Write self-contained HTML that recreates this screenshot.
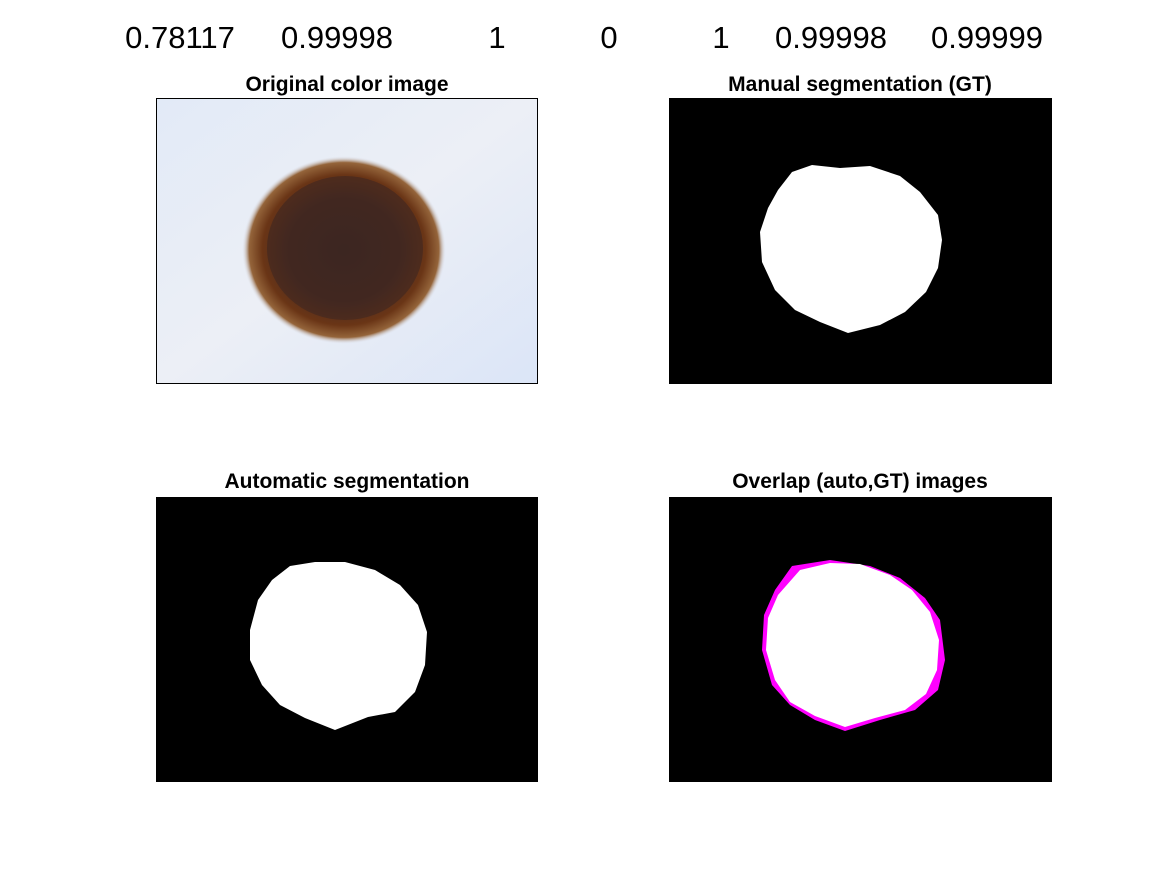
<!DOCTYPE html>
<html><head><meta charset="utf-8">
<style>
html,body{margin:0;padding:0;background:#fff;}
body{width:1167px;height:875px;position:relative;overflow:hidden;font-family:"Liberation Sans",Arial,sans-serif;}
</style></head>
<body>
<svg width="1167" height="875" viewBox="0 0 1167 875">
<defs>
<radialGradient id="lesion" cx="0.5" cy="0.5" r="0.5">
<stop offset="0" stop-color="#3a2622"/>
<stop offset="0.55" stop-color="#482a20"/>
<stop offset="0.8" stop-color="#6a3516"/>
<stop offset="0.93" stop-color="#94643a"/>
<stop offset="1" stop-color="#dfe6f2" stop-opacity="0"/>
</radialGradient>
<linearGradient id="skin" x1="0" y1="0" x2="1" y2="1">
<stop offset="0" stop-color="#e2eaf7"/>
<stop offset="0.5" stop-color="#eceff6"/>
<stop offset="1" stop-color="#dbe5f7"/>
</linearGradient>
</defs>
<g font-size="31" fill="#000" text-anchor="middle">
<text x="180" y="48">0.78117</text>
<text x="337" y="48">0.99998</text>
<text x="497" y="48">1</text>
<text x="609" y="48">0</text>
<text x="721" y="48">1</text>
<text x="831" y="48">0.99998</text>
<text x="987" y="48">0.99999</text>
</g>
<g font-size="21" font-weight="bold" text-anchor="middle">
<text x="347" y="91">Original color image</text>
<text x="860" y="91">Manual segmentation (GT)</text>
<text x="347" y="488">Automatic segmentation</text>
<text x="860" y="488">Overlap (auto,GT) images</text>
</g>
<g>
<rect x="156" y="98" width="382" height="286" fill="url(#skin)"/>
<ellipse cx="344" cy="250" rx="102" ry="94" fill="url(#lesion)"/>
<ellipse cx="345" cy="248" rx="78" ry="72" fill="#3e2622" opacity="0.6"/>
<rect x="156.5" y="98.5" width="381" height="285" fill="none" stroke="#000" stroke-width="1"/>
</g>
<g>
<rect x="669" y="98" width="383" height="286" fill="#000"/>
<polygon fill="#fff" points="792,172 812,165 840,168 870,166 900,176 920,192 938,215 942,240 938,268 926,292 905,312 880,325 848,333 820,322 795,310 775,290 762,262 760,232 768,208 778,190"/>
</g>
<g>
<rect x="156" y="497" width="382" height="285" fill="#000"/>
<polygon fill="#fff" points="290,566 315,562 345,562 375,570 400,585 418,605 427,632 425,665 415,692 395,712 368,717 335,730 305,718 280,705 262,685 250,660 250,630 258,600 272,580"/>
</g>
<g>
<rect x="669" y="497" width="383" height="285" fill="#000"/>
<polygon fill="#f0f" points="792,566 830,560 870,566 900,578 925,598 940,620 945,660 938,690 915,710 880,720 845,731 815,720 790,705 772,685 762,650 764,615 775,590"/>
<polygon fill="#fff" points="800,570 830,563 860,564 890,575 912,590 930,612 939,640 937,670 926,694 905,710 875,718 845,727 815,716 790,702 775,680 766,650 768,618 778,595"/>
</g>
</svg>
</body></html>
